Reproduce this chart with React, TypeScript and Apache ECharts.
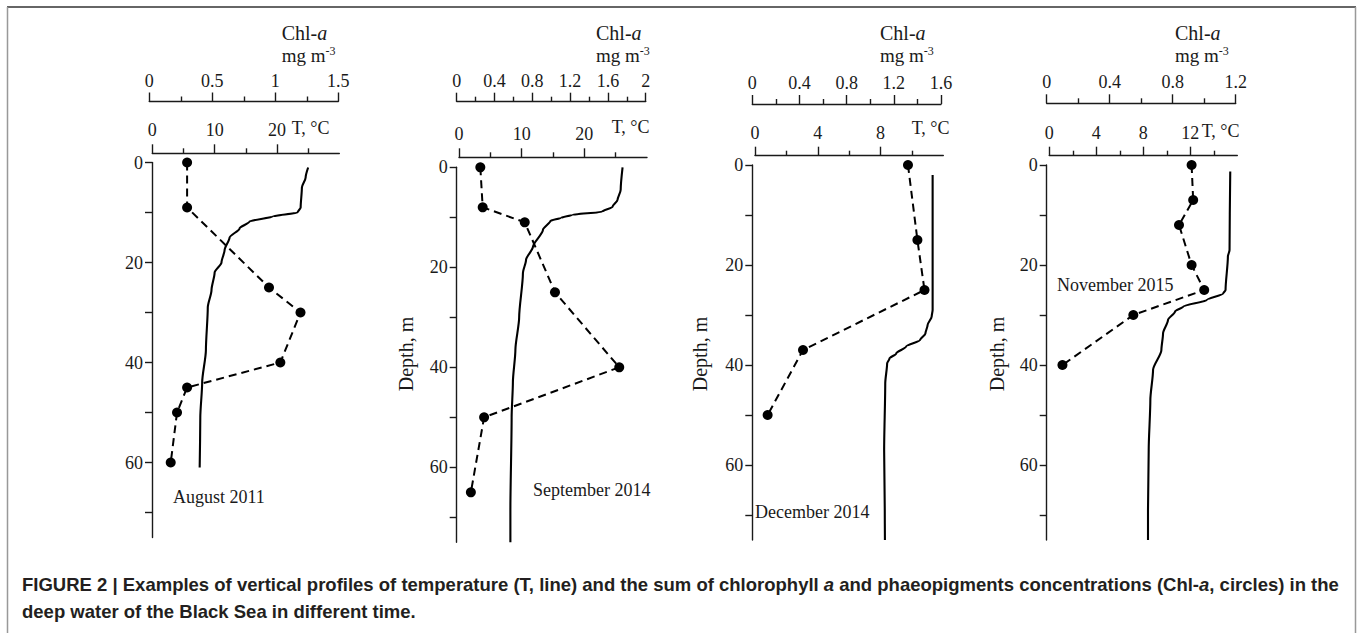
import React, { useEffect, useRef } from "react";
import * as echarts from "echarts";

const SERIF = "'Liberation Serif', 'Times New Roman', serif";
const SANS = "'Liberation Sans', Arial, sans-serif";
const INK = "#1a1a1a";

// ---- Depth axis (shared) ----
const depthMax = 75;
const depthTicks = [0, 10, 20, 30, 40, 50, 60, 70];
const depthLabels = [0, 20, 40, 60];

// ---- Panel 1: August 2011 ----
const aug2011TempDepth = [1, 3, 5, 9, 10, 10.8, 11.8, 13.2, 15, 17.5, 20, 22, 25.5, 29, 37.5, 44, 51, 61];
const aug2011Temp = [25.0, 24.6, 24.0, 23.8, 23.3, 19.3, 15.6, 14.0, 12.4, 11.6, 11.1, 10.0, 9.5, 8.9, 8.6, 8.0, 7.7, 7.6];
const aug2011ChlDepth = [0, 9, 25, 30, 40, 45, 50, 60];
const aug2011Chl = [0.3, 0.3, 0.95, 1.2, 1.04, 0.3, 0.22, 0.17];
const aug2011TMajor = [0, 10, 20];
const aug2011TMinor = [5, 15, 25];
const aug2011ChlMajor = [0, 0.5, 1, 1.5];
const aug2011ChlMinor = [0.25, 0.75, 1.25];

// ---- Panel 2: September 2014 ----
const sep2014TempDepth = [0, 4.5, 6.5, 7.9, 8.9, 9.5, 10.1, 10.7, 12.5, 15.9, 18.5, 21.2, 30, 36.5, 43, 50, 68.5, 75];
const sep2014Temp = [26.1, 25.8, 25.3, 24.5, 22.8, 18.1, 16.3, 14.6, 13.4, 11.8, 10.7, 10.2, 9.6, 9.0, 8.6, 8.4, 8.2, 8.2];
const sep2014ChlDepth = [0, 8, 11, 25, 40, 50, 65];
const sep2014Chl = [0.25, 0.275, 0.72, 1.04, 1.72, 0.29, 0.15];
const sep2014TMajor = [0, 10, 20];
const sep2014TMinor = [5, 15, 25];
const sep2014ChlMajor = [0, 0.4, 0.8, 1.2, 1.6, 2];
const sep2014ChlMinor = [0.2, 0.6, 1.0, 1.4, 1.8];

// ---- Panel 3: December 2014 ----
const dec2014TempDepth = [2, 29, 30.3, 32, 33.7, 35, 36.3, 37.7, 38.7, 39.7, 43.7, 57, 69, 75];
const dec2014Temp = [11.32, 11.32, 11.26, 11.0, 10.86, 10.52, 9.63, 9.0, 8.57, 8.42, 8.3, 8.23, 8.27, 8.28];
const dec2014ChlDepth = [0, 15, 25, 37, 50];
const dec2014Chl = [1.32, 1.4, 1.46, 0.43, 0.13];
const dec2014TMajor = [0, 4, 8];
const dec2014TMinor = [2, 6, 10];
const dec2014ChlMajor = [0, 0.4, 0.8, 1.2, 1.6];
const dec2014ChlMinor = [0.2, 0.6, 1.0, 1.4];

// ---- Panel 4: November 2015 ----
const nov2015TempDepth = [1.3, 17, 18.3, 25, 25.7, 27, 28.3, 29.3, 31, 33.7, 37, 41, 47, 57, 69, 75];
const nov2015Temp = [15.4, 15.34, 15.2, 15.0, 14.8, 13.4, 11.4, 10.7, 10.1, 9.68, 9.54, 8.83, 8.6, 8.46, 8.4, 8.4];
const nov2015ChlDepth = [0, 7, 12, 20, 25, 30, 40];
const nov2015Chl = [0.92, 0.93, 0.84, 0.92, 1.0, 0.55, 0.1];
const nov2015TMajor = [0, 4, 8, 12];
const nov2015TMinor = [2, 6, 10, 14];
const nov2015ChlMajor = [0, 0.4, 0.8, 1.2];
const nov2015ChlMinor = [0.2, 0.6, 1.0];

const panels = [
  {
    label: "August 2011", tDepth: aug2011TempDepth, t: aug2011Temp, cDepth: aug2011ChlDepth, c: aug2011Chl,
    tMax: 30, tMajor: aug2011TMajor, tMinor: aug2011TMinor, cMax: 1.5, cMajor: aug2011ChlMajor, cMinor: aug2011ChlMinor,
    L: { depthX: 152, d0Y: 162.5, tX: 152.3, tW: 187, tLineY: 153.3, cX: 149.3, cW: 189, cLineY: 101.5,
      depthTitle: false, depthTitleX: 0, labelX: 173, labelY: 497, tTitleX: 291.7, tTitleY: 128, chlTitleX: 281.7 },
  },
  {
    label: "September 2014", tDepth: sep2014TempDepth, t: sep2014Temp, cDepth: sep2014ChlDepth, c: sep2014Chl,
    tMax: 30, tMajor: sep2014TMajor, tMinor: sep2014TMinor, cMax: 2, cMajor: sep2014ChlMajor, cMinor: sep2014ChlMinor,
    L: { depthX: 456.7, d0Y: 167.3, tX: 459, tW: 188, tLineY: 157.3, cX: 456.7, cW: 189, cLineY: 101.7,
      depthTitle: true, depthTitleX: 406, labelX: 533, labelY: 490, tTitleX: 611.7, tTitleY: 127, chlTitleX: 596 },
  },
  {
    label: "December 2014", tDepth: dec2014TempDepth, t: dec2014Temp, cDepth: dec2014ChlDepth, c: dec2014Chl,
    tMax: 12, tMajor: dec2014TMajor, tMinor: dec2014TMinor, cMax: 1.6, cMajor: dec2014ChlMajor, cMinor: dec2014ChlMinor,
    L: { depthX: 752.3, d0Y: 165, tX: 755, tW: 188.3, tLineY: 155.7, cX: 752.3, cW: 188.7, cLineY: 104,
      depthTitle: true, depthTitleX: 700, labelX: 755, labelY: 512, tTitleX: 911.7, tTitleY: 128.3, chlTitleX: 880 },
  },
  {
    label: "November 2015", tDepth: nov2015TempDepth, t: nov2015Temp, cDepth: nov2015ChlDepth, c: nov2015Chl,
    tMax: 16, tMajor: nov2015TMajor, tMinor: nov2015TMinor, cMax: 1.2, cMajor: nov2015ChlMajor, cMinor: nov2015ChlMinor,
    L: { depthX: 1046.7, d0Y: 165, tX: 1049.3, tW: 188, tLineY: 155.7, cX: 1046.7, cW: 189, cLineY: 103.3,
      depthTitle: true, depthTitleX: 997, labelX: 1057, labelY: 285, tTitleX: 1201.7, tTitleY: 131, chlTitleX: 1175 },
  },
];

const PX_PER_M = 5;
const lineStyle = { color: INK, width: 1.4 };
const labelStyle = { fontFamily: SERIF, fontSize: 18, color: INK };

function txt(text: string, x: number, y: number, extra: any = {}) {
  return {
    type: "text",
    x, y,
    silent: true,
    style: {
      text,
      fill: INK,
      fontFamily: SERIF,
      fontSize: 18,
      align: "left",
      verticalAlign: "middle",
      textAlign: "left",
      textVerticalAlign: "middle",
      ...extra,
    },
  };
}

function buildOption() {
  const grid: any[] = [];
  const xAxis: any[] = [];
  const yAxis: any[] = [];
  const series: any[] = [];
  const graphic: any[] = [];

  panels.forEach((p) => {
    const L = p.L;
    const H = depthMax * PX_PER_M;
    const gT = grid.length;
    grid.push({ left: L.tX, top: L.d0Y, width: L.tW, height: H, containLabel: false });
    const gC = grid.length;
    grid.push({ left: L.cX, top: L.d0Y, width: L.cW, height: H, containLabel: false });

    // Temperature axis (major + minor)
    const xT = xAxis.length;
    xAxis.push({
      type: "value", gridIndex: gT, position: "top", offset: L.d0Y - L.tLineY,
      min: 0, max: p.tMax,
      axisLine: { show: true, onZero: false, lineStyle },
      axisTick: { show: true, customValues: p.tMajor, length: 9, lineStyle },
      axisLabel: { show: true, customValues: p.tMajor, margin: 14, ...labelStyle, formatter: (v: number) => String(v) },
      splitLine: { show: false },
    });
    xAxis.push({
      type: "value", gridIndex: gT, position: "top", offset: L.d0Y - L.tLineY,
      min: 0, max: p.tMax,
      axisLine: { show: false, onZero: false },
      axisTick: { show: true, customValues: p.tMinor, length: 5, lineStyle },
      axisLabel: { show: false },
      splitLine: { show: false },
    });
    // Chl axis (major + minor)
    const xC = xAxis.length;
    xAxis.push({
      type: "value", gridIndex: gC, position: "top", offset: L.d0Y - L.cLineY,
      min: 0, max: p.cMax,
      axisLine: { show: true, onZero: false, lineStyle },
      axisTick: { show: true, customValues: p.cMajor, length: 9, lineStyle },
      axisLabel: { show: true, customValues: p.cMajor, margin: 12, ...labelStyle, formatter: (v: number) => String(v) },
      splitLine: { show: false },
    });
    xAxis.push({
      type: "value", gridIndex: gC, position: "top", offset: L.d0Y - L.cLineY,
      min: 0, max: p.cMax,
      axisLine: { show: false, onZero: false },
      axisTick: { show: true, customValues: p.cMinor, length: 5, lineStyle },
      axisLabel: { show: false },
      splitLine: { show: false },
    });

    const yT = yAxis.length;
    yAxis.push({ type: "value", gridIndex: gT, inverse: true, min: 0, max: depthMax, show: false });
    const yC = yAxis.length;
    yAxis.push({
      type: "value", gridIndex: gC, inverse: true, min: 0, max: depthMax, position: "left",
      offset: L.cX - L.depthX,
      axisLine: { show: true, onZero: false, lineStyle },
      axisTick: { show: true, customValues: depthTicks, length: 7, lineStyle },
      axisLabel: { show: true, customValues: depthLabels, margin: 9, ...labelStyle, formatter: (v: number) => String(v) },
      splitLine: { show: false },
    });

    series.push({
      type: "line", name: "T " + p.label, xAxisIndex: xT, yAxisIndex: yT,
      data: p.tDepth.map((d, k) => [p.t[k], d]),
      showSymbol: false, symbol: "none", clip: false,
      smooth: 0.25, smoothMonotone: "y",
      lineStyle: { color: "#000", width: 2.1 },
    });
    series.push({
      type: "line", name: "Chl " + p.label, xAxisIndex: xC, yAxisIndex: yC,
      data: p.cDepth.map((d, k) => [p.c[k], d]),
      symbol: "circle", symbolSize: 10, showSymbol: true, clip: false,
      itemStyle: { color: "#000" },
      lineStyle: { color: "#000", width: 2, type: [8, 5] },
    });

    // titles
    graphic.push({
      type: "text", x: L.chlTitleX, y: 33, silent: true,
      style: {
        text: "{n|Chl-}{i|a}",
        align: "left", verticalAlign: "middle", textAlign: "left", textVerticalAlign: "middle",
        rich: {
          n: { fontFamily: SERIF, fontSize: 20, fill: INK, color: INK },
          i: { fontFamily: SERIF, fontSize: 20, fontStyle: "italic", fill: INK, color: INK },
        },
      },
    });
    graphic.push({
      type: "text", x: L.chlTitleX, y: 55, silent: true,
      style: {
        text: "{n|mg m}{s|-3}",
        align: "left", verticalAlign: "middle", textAlign: "left", textVerticalAlign: "middle",
        rich: {
          n: { fontFamily: SERIF, fontSize: 19, lineHeight: 20, fill: INK, color: INK },
          s: { fontFamily: SERIF, fontSize: 12, lineHeight: 12, verticalAlign: "top", fill: INK, color: INK },
        },
      },
    });
    graphic.push(txt("T, °C", L.tTitleX, L.tTitleY));
    graphic.push(txt(p.label, L.labelX, L.labelY));
    if (L.depthTitle) {
      graphic.push({
        type: "text", x: L.depthTitleX, y: 354, rotation: Math.PI / 2, silent: true,
        style: {
          text: "Depth, m", fill: INK, fontFamily: SERIF, fontSize: 20,
          align: "center", verticalAlign: "middle", textAlign: "center", textVerticalAlign: "middle",
        },
      });
    }
  });

  // frame
  graphic.push({ type: "line", silent: true, shape: { x1: 7, y1: 7, x2: 1356, y2: 7 }, style: { stroke: "#333", lineWidth: 1.5 } });
  graphic.push({ type: "line", silent: true, shape: { x1: 7.5, y1: 7, x2: 7.5, y2: 633 }, style: { stroke: "#999", lineWidth: 1.5 } });
  graphic.push({ type: "line", silent: true, shape: { x1: 1355.5, y1: 7, x2: 1355.5, y2: 633 }, style: { stroke: "#999", lineWidth: 1.5 } });

  // caption
  const capRich = {
    b: { fontFamily: SANS, fontSize: 18.5, fontWeight: "bold", fill: "#231f20", color: "#231f20" },
    bi: { fontFamily: SANS, fontSize: 18.5, fontWeight: "bold", fontStyle: "italic", fill: "#231f20", color: "#231f20" },
  };
  graphic.push({
    type: "text", x: 22, y: 584, silent: true,
    style: {
      text: "{b|FIGURE 2 | Examples of vertical profiles of temperature (T, line) and the sum of chlorophyll }{bi|a}{b| and phaeopigments concentrations (Chl-}{bi|a}{b|, circles) in the}",
      align: "left", verticalAlign: "middle", textAlign: "left", textVerticalAlign: "middle",
      rich: capRich,
    },
  });
  graphic.push({
    type: "text", x: 22, y: 611, silent: true,
    style: {
      text: "{b|deep water of the Black Sea in different time.}",
      align: "left", verticalAlign: "middle", textAlign: "left", textVerticalAlign: "middle",
      rich: capRich,
    },
  });

  return {
    animation: false,
    backgroundColor: "#fff",
    grid, xAxis, yAxis, series, graphic,
  };
}

export default function App() {
  const ref = useRef<HTMLDivElement>(null);
  useEffect(() => {
    if (!ref.current) return;
    const chart = echarts.init(ref.current, null, { renderer: "svg" });
    chart.setOption(buildOption() as any);
    return () => chart.dispose();
  }, []);
  return (
    <div
      ref={ref}
      style={{ position: "absolute", left: 0, top: 0, width: 1357, height: 633, background: "#fff" }}
    />
  );
}
